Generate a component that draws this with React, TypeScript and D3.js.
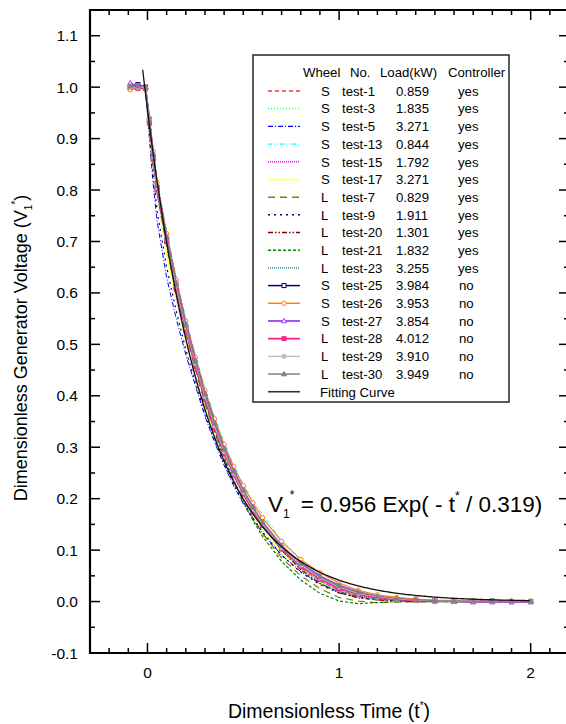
import React from "react";
import * as d3 from "d3";

const T = [-0.09, -0.05, -0.01, 0.01, 0.03, 0.05, 0.1, 0.15, 0.2, 0.25, 0.3, 0.35, 0.4, 0.45, 0.5, 0.55, 0.6, 0.7, 0.8, 0.9, 1.0, 1.1, 1.2, 1.3, 1.4, 1.5, 1.6, 1.7, 1.8, 1.9, 2.0];

const test1 = [1.0,1.0,0.998,0.93,0.86,0.80,0.70,0.605,0.525,0.455,0.39,0.335,0.285,0.245,0.21,0.175,0.147,0.10,0.066,0.040,0.022,0.011,0.005,0.003,0.002,0.001,0.001,0.0005,0,0,0];
const test3 = [1.0,1.0,0.997,0.92,0.85,0.79,0.685,0.59,0.51,0.44,0.375,0.32,0.272,0.232,0.197,0.165,0.138,0.093,0.06,0.036,0.02,0.01,0.005,0.003,0.002,0.001,0.001,0,0,0,0];
const test5 = [1.0,1.0,0.995,0.90,0.81,0.74,0.63,0.55,0.48,0.42,0.36,0.31,0.265,0.225,0.19,0.16,0.133,0.09,0.058,0.035,0.019,0.01,0.005,0.003,0.002,0.001,0.001,0,0,0,0];
const test13 = [1.0,1.0,0.999,0.94,0.88,0.82,0.72,0.63,0.55,0.48,0.415,0.36,0.31,0.265,0.228,0.197,0.17,0.12,0.08,0.05,0.028,0.015,0.008,0.004,0.002,0.001,0.001,0.0005,0,0,0];
const test15 = [1.0,1.0,0.998,0.93,0.87,0.81,0.71,0.615,0.535,0.465,0.40,0.345,0.295,0.252,0.215,0.182,0.153,0.105,0.07,0.043,0.024,0.012,0.006,0.003,0.002,0.001,0.001,0.0005,0,0,0];
const test17 = [1.0,1.0,0.996,0.91,0.84,0.78,0.675,0.585,0.505,0.438,0.375,0.322,0.275,0.236,0.2,0.168,0.14,0.095,0.062,0.038,0.021,0.011,0.005,0.003,0.002,0.001,0,0,0,0,0];
const test7 = [1.0,1.0,0.998,0.92,0.85,0.795,0.69,0.6,0.52,0.45,0.385,0.328,0.278,0.235,0.197,0.163,0.133,0.085,0.05,0.025,0.008,0.001,-0.002,-0.001,0,0,0,0,0,0,0];
const test9 = [1.0,1.0,0.996,0.91,0.83,0.76,0.65,0.565,0.49,0.425,0.365,0.313,0.268,0.228,0.193,0.162,0.135,0.09,0.057,0.033,0.017,0.008,0.004,0.002,0.001,0.001,0,0,0,0,0];
const test20 = [1.0,1.0,0.999,0.94,0.875,0.815,0.715,0.625,0.545,0.475,0.41,0.352,0.30,0.256,0.217,0.182,0.151,0.1,0.062,0.035,0.017,0.007,0.003,0.001,0,0,0,0,0,0,0];
const test21 = [1.0,1.0,0.998,0.93,0.86,0.80,0.70,0.61,0.53,0.458,0.39,0.332,0.28,0.235,0.195,0.158,0.127,0.078,0.042,0.016,0.001,-0.004,-0.002,0,0,0,0,0,0,0,0];
const test23 = [1.0,1.0,0.998,0.92,0.855,0.795,0.695,0.605,0.527,0.457,0.393,0.337,0.287,0.245,0.208,0.175,0.146,0.099,0.064,0.039,0.021,0.011,0.005,0.003,0.001,0.001,0,0,0,0,0];
const test25 = [1.0,1.005,1.0,0.935,0.865,0.805,0.70,0.61,0.53,0.46,0.396,0.34,0.29,0.248,0.211,0.178,0.15,0.104,0.07,0.045,0.027,0.015,0.008,0.005,0.003,0.002,0.001,0.001,0.001,0,0];
const test26 = [0.995,0.997,0.998,0.94,0.875,0.815,0.715,0.625,0.545,0.475,0.41,0.355,0.305,0.262,0.225,0.192,0.163,0.117,0.082,0.056,0.036,0.022,0.013,0.008,0.005,0.003,0.002,0.002,0.001,0.001,0.001];
const test27 = [1.008,1.003,1.0,0.94,0.87,0.81,0.71,0.62,0.54,0.47,0.405,0.348,0.298,0.255,0.217,0.184,0.155,0.109,0.075,0.05,0.032,0.019,0.01,0.005,0.002,0.001,0,-0.001,-0.001,-0.001,-0.001];
const test28 = [1.0,0.998,0.997,0.93,0.86,0.80,0.70,0.607,0.527,0.457,0.393,0.337,0.288,0.246,0.209,0.176,0.148,0.102,0.068,0.043,0.025,0.014,0.007,0.004,0.002,0.001,0.001,0,0,0,0];
const test29 = [1.0,1.0,0.999,0.935,0.865,0.805,0.705,0.613,0.533,0.463,0.399,0.342,0.292,0.25,0.213,0.18,0.151,0.105,0.071,0.046,0.028,0.016,0.009,0.005,0.003,0.002,0.001,0.001,0.001,0.0005,0];
const test30 = [1.002,1.002,1.0,0.935,0.868,0.808,0.708,0.617,0.537,0.467,0.403,0.346,0.296,0.253,0.216,0.183,0.154,0.108,0.074,0.048,0.03,0.018,0.01,0.006,0.004,0.002,0.001,0.001,0.001,0.001,0.0005];

// Fitting curve parameters V = A exp(-t/tau)
const FIT_A = 0.956;
const FIT_TAU = 0.319;
const FIT_T0 = -0.025;
const FIT_T1 = 2.0;

const wheels = ["S","S","S","S","S","S","L","L","L","L","L","S","S","S","L","L","L"];
const names = ["test-1","test-3","test-5","test-13","test-15","test-17","test-7","test-9","test-20","test-21","test-23","test-25","test-26","test-27","test-28","test-29","test-30"];
const loads = ["0.859","1.835","3.271","0.844","1.792","3.271","0.829","1.911","1.301","1.832","3.255","3.984","3.953","3.854","4.012","3.910","3.949"];
const controllers = ["yes","yes","yes","yes","yes","yes","yes","yes","yes","yes","yes","no","no","no","no","no","no"];
const seriesValues = [test1,test3,test5,test13,test15,test17,test7,test9,test20,test21,test23,test25,test26,test27,test28,test29,test30];

const xTicksMajor = [0, 1, 2];
const yTicksMajor = [-0.1,0,0.1,0.2,0.3,0.4,0.5,0.6,0.7,0.8,0.9,1.0,1.1];

type Style = { color: string; dash?: string; width: number; marker?: string; fill?: boolean };
const styles: Style[] = [
  { color: "#ff3030", dash: "4,3", width: 1 },
  { color: "#33ff33", dash: "1,2", width: 1 },
  { color: "#0000ff", dash: "5,2,1,2", width: 1 },
  { color: "#00ffff", dash: "4,2,1,2,1,2", width: 1 },
  { color: "#ff00ff", dash: "1,1", width: 1 },
  { color: "#ffff00", dash: "1,1", width: 1.2 },
  { color: "#808000", dash: "7,5", width: 1.2 },
  { color: "#000080", dash: "2,4", width: 1.2 },
  { color: "#800000", dash: "5,2,1.5,2,1.5,2", width: 1.2 },
  { color: "#008000", dash: "3,2", width: 1.2 },
  { color: "#008080", dash: "1,1", width: 1 },
  { color: "#000080", width: 1.2, marker: "square", fill: false },
  { color: "#ff8000", width: 1.2, marker: "circle", fill: false },
  { color: "#a040ff", width: 1.5, marker: "triangle", fill: false },
  { color: "#ff2090", width: 1.5, marker: "square", fill: true },
  { color: "#c0c0c0", width: 1.2, marker: "circle", fill: true },
  { color: "#808080", width: 1.2, marker: "triangle", fill: true },
];

const FONT = "'Liberation Sans', Arial, Helvetica, sans-serif";

function Marker({ kind, x, y, color, fill }: { kind: string; x: number; y: number; color: string; fill: boolean }) {
  const f = fill ? color : "#fff";
  if (kind === "square") return <rect x={x - 2} y={y - 2} width={4} height={4} fill={f} stroke={color} strokeWidth={1} />;
  if (kind === "circle") return <circle cx={x} cy={y} r={2.2} fill={f} stroke={color} strokeWidth={1} />;
  const p = `${x},${y - 2.6} ${x - 2.5},${y + 1.8} ${x + 2.5},${y + 1.8}`;
  return <polygon points={p} fill={f} stroke={color} strokeWidth={1} />;
}

export default function App() {
  const W = 566, H = 724;
  const left = 90, right = 569, top = 10, bottom = 653;
  const x = d3.scaleLinear().domain([-0.3, 2.2]).range([left, right]);
  const y = d3.scaleLinear().domain([-0.1, 1.15]).range([bottom, top]);
  const line = d3.line<[number, number]>().x(d => x(d[0])).y(d => y(d[1]));

  const xMinor = d3.range(-0.2, 2.2001, 0.1).map(v => Math.round(v * 10) / 10);
  const yMinor = d3.range(-0.05, 1.15, 0.1).map(v => Math.round(v * 100) / 100);

  const fitPts: [number, number][] = d3.range(FIT_T0, FIT_T1 + 0.0001, 0.01).map(t => [t, FIT_A * Math.exp(-t / FIT_TAU)]);

  const legX0 = 268, legX1 = 300;
  const rowY = (i: number) => 91 + i * 17.69;

  return (
    <svg width={W} height={H} style={{ position: "absolute", left: 0, top: 0, background: "#fff" }} fontFamily={FONT}>
      <defs>
        <clipPath id="plotclip"><rect x={left} y={top} width={right - left} height={bottom - top} /></clipPath>
      </defs>
      {/* data */}
      <g clipPath="url(#plotclip)">
        {seriesValues.map((vals, si) => {
          const st = styles[si];
          const pts: [number, number][] = vals.map((v, i) => [T[i], v]);
          return (
            <g key={si}>
              <path d={line(pts) || ""} fill="none" stroke={st.color} strokeWidth={st.width} strokeDasharray={st.dash} />
              {st.marker && pts.map((p, i) => (
                <Marker key={i} kind={st.marker!} x={x(p[0])} y={y(p[1])} color={st.color} fill={!!st.fill} />
              ))}
            </g>
          );
        })}
        <path d={line(fitPts) || ""} fill="none" stroke="#111" strokeWidth={1.3} />
      </g>

      {/* axes frame (right spine lies just beyond the visible page) */}
      <line x1={left} x2={right + 3} y1={bottom} y2={bottom} stroke="#000" strokeWidth={2.2} />
      <line x1={left} x2={right + 3} y1={top} y2={top} stroke="#000" strokeWidth={2.2} />
      <line x1={left} x2={left} y1={top - 1.1} y2={bottom + 1.1} stroke="#000" strokeWidth={2.2} />
      <line x1={right + 2} x2={right + 2} y1={top} y2={bottom} stroke="#000" strokeWidth={2.2} />

      {xMinor.map((v, i) => {
        const major = xTicksMajor.some(m => Math.abs(m - v) < 1e-6);
        const len = major ? 10 : 5;
        return (
          <g key={"xt" + i}>
            <line x1={x(v)} x2={x(v)} y1={bottom} y2={bottom - len} stroke="#000" strokeWidth={1.5} />
            <line x1={x(v)} x2={x(v)} y1={top} y2={top + len} stroke="#000" strokeWidth={1.5} />
          </g>
        );
      })}
      {xTicksMajor.map(v => (
        <text key={"xl" + v} x={x(v)} y={678} textAnchor="middle" fontSize={15.5} fill="#000">{String(v)}</text>
      ))}
      {yTicksMajor.map(v => (
        <g key={"yt" + v}>
          <line x1={left} x2={left + 10} y1={y(v)} y2={y(v)} stroke="#000" strokeWidth={1.5} />
          <line x1={right} x2={right - 10} y1={y(v)} y2={y(v)} stroke="#000" strokeWidth={1.5} />
          <text x={78} y={y(v) + 5.5} textAnchor="end" fontSize={15.5} fill="#000">{v.toFixed(1)}</text>
        </g>
      ))}
      {yMinor.map(v => (
        <g key={"ym" + v}>
          <line x1={left} x2={left + 5} y1={y(v)} y2={y(v)} stroke="#000" strokeWidth={1.5} />
          <line x1={right} x2={right - 5} y1={y(v)} y2={y(v)} stroke="#000" strokeWidth={1.5} />
        </g>
      ))}

      {/* axis titles */}
      <text x={329} y={718} textAnchor="middle" fontSize={19.5} fill="#000">
        Dimensionless Time (t<tspan dy={-9} fontSize={10}>*</tspan><tspan dy={9}>)</tspan>
      </text>
      <text transform={`translate(27,348) rotate(-90)`} textAnchor="middle" fontSize={18} fill="#000">
        Dimensionless Generator Voltage (V<tspan dy={5} fontSize={10}>1</tspan><tspan dy={-13} fontSize={10}>*</tspan><tspan dy={8}>)</tspan>
      </text>

      {/* formula */}
      <text x={268} y={512} fontSize={22.5} fill="#000">
        V<tspan dy={6} fontSize={12}>1</tspan><tspan dy={-19} fontSize={12}>*</tspan><tspan dy={13}> = 0.956 Exp( - t</tspan><tspan dy={-12} fontSize={12}>*</tspan><tspan dy={12}> / 0.319)</tspan>
      </text>

      {/* legend */}
      <rect x={253} y={55} width={256} height={347} fill="#fff" stroke="#333" strokeWidth={1.6} />
      <g fontSize={13.2} fill="#000">
        <text x={303} y={77}>Wheel</text>
        <text x={350} y={77}>No.</text>
        <text x={380} y={77}>Load(kW)</text>
        <text x={448} y={77}>Controller</text>
        {names.map((n, i) => {
          const st = styles[i];
          const cy = rowY(i);
          return (
            <g key={"lg" + i}>
              <line x1={legX0} x2={legX1} y1={cy} y2={cy} stroke={st.color} strokeWidth={st.width + 0.3} strokeDasharray={st.dash} />
              {st.marker && <Marker kind={st.marker} x={(legX0 + legX1) / 2} y={cy} color={st.color} fill={!!st.fill} />}
              <text x={321} y={cy + 4.8}>{wheels[i]}</text>
              <text x={342} y={cy + 4.8}>{n}</text>
              <text x={396} y={cy + 4.8}>{loads[i]}</text>
              <text x={controllers[i] === "yes" ? 458 : 459} y={cy + 4.8}>{controllers[i]}</text>
            </g>
          );
        })}
        <line x1={legX0} x2={legX1} y1={rowY(17)} y2={rowY(17)} stroke="#333" strokeWidth={1.6} />
        <text x={320} y={rowY(17) + 4.8}>Fitting Curve</text>
      </g>
    </svg>
  );
}
